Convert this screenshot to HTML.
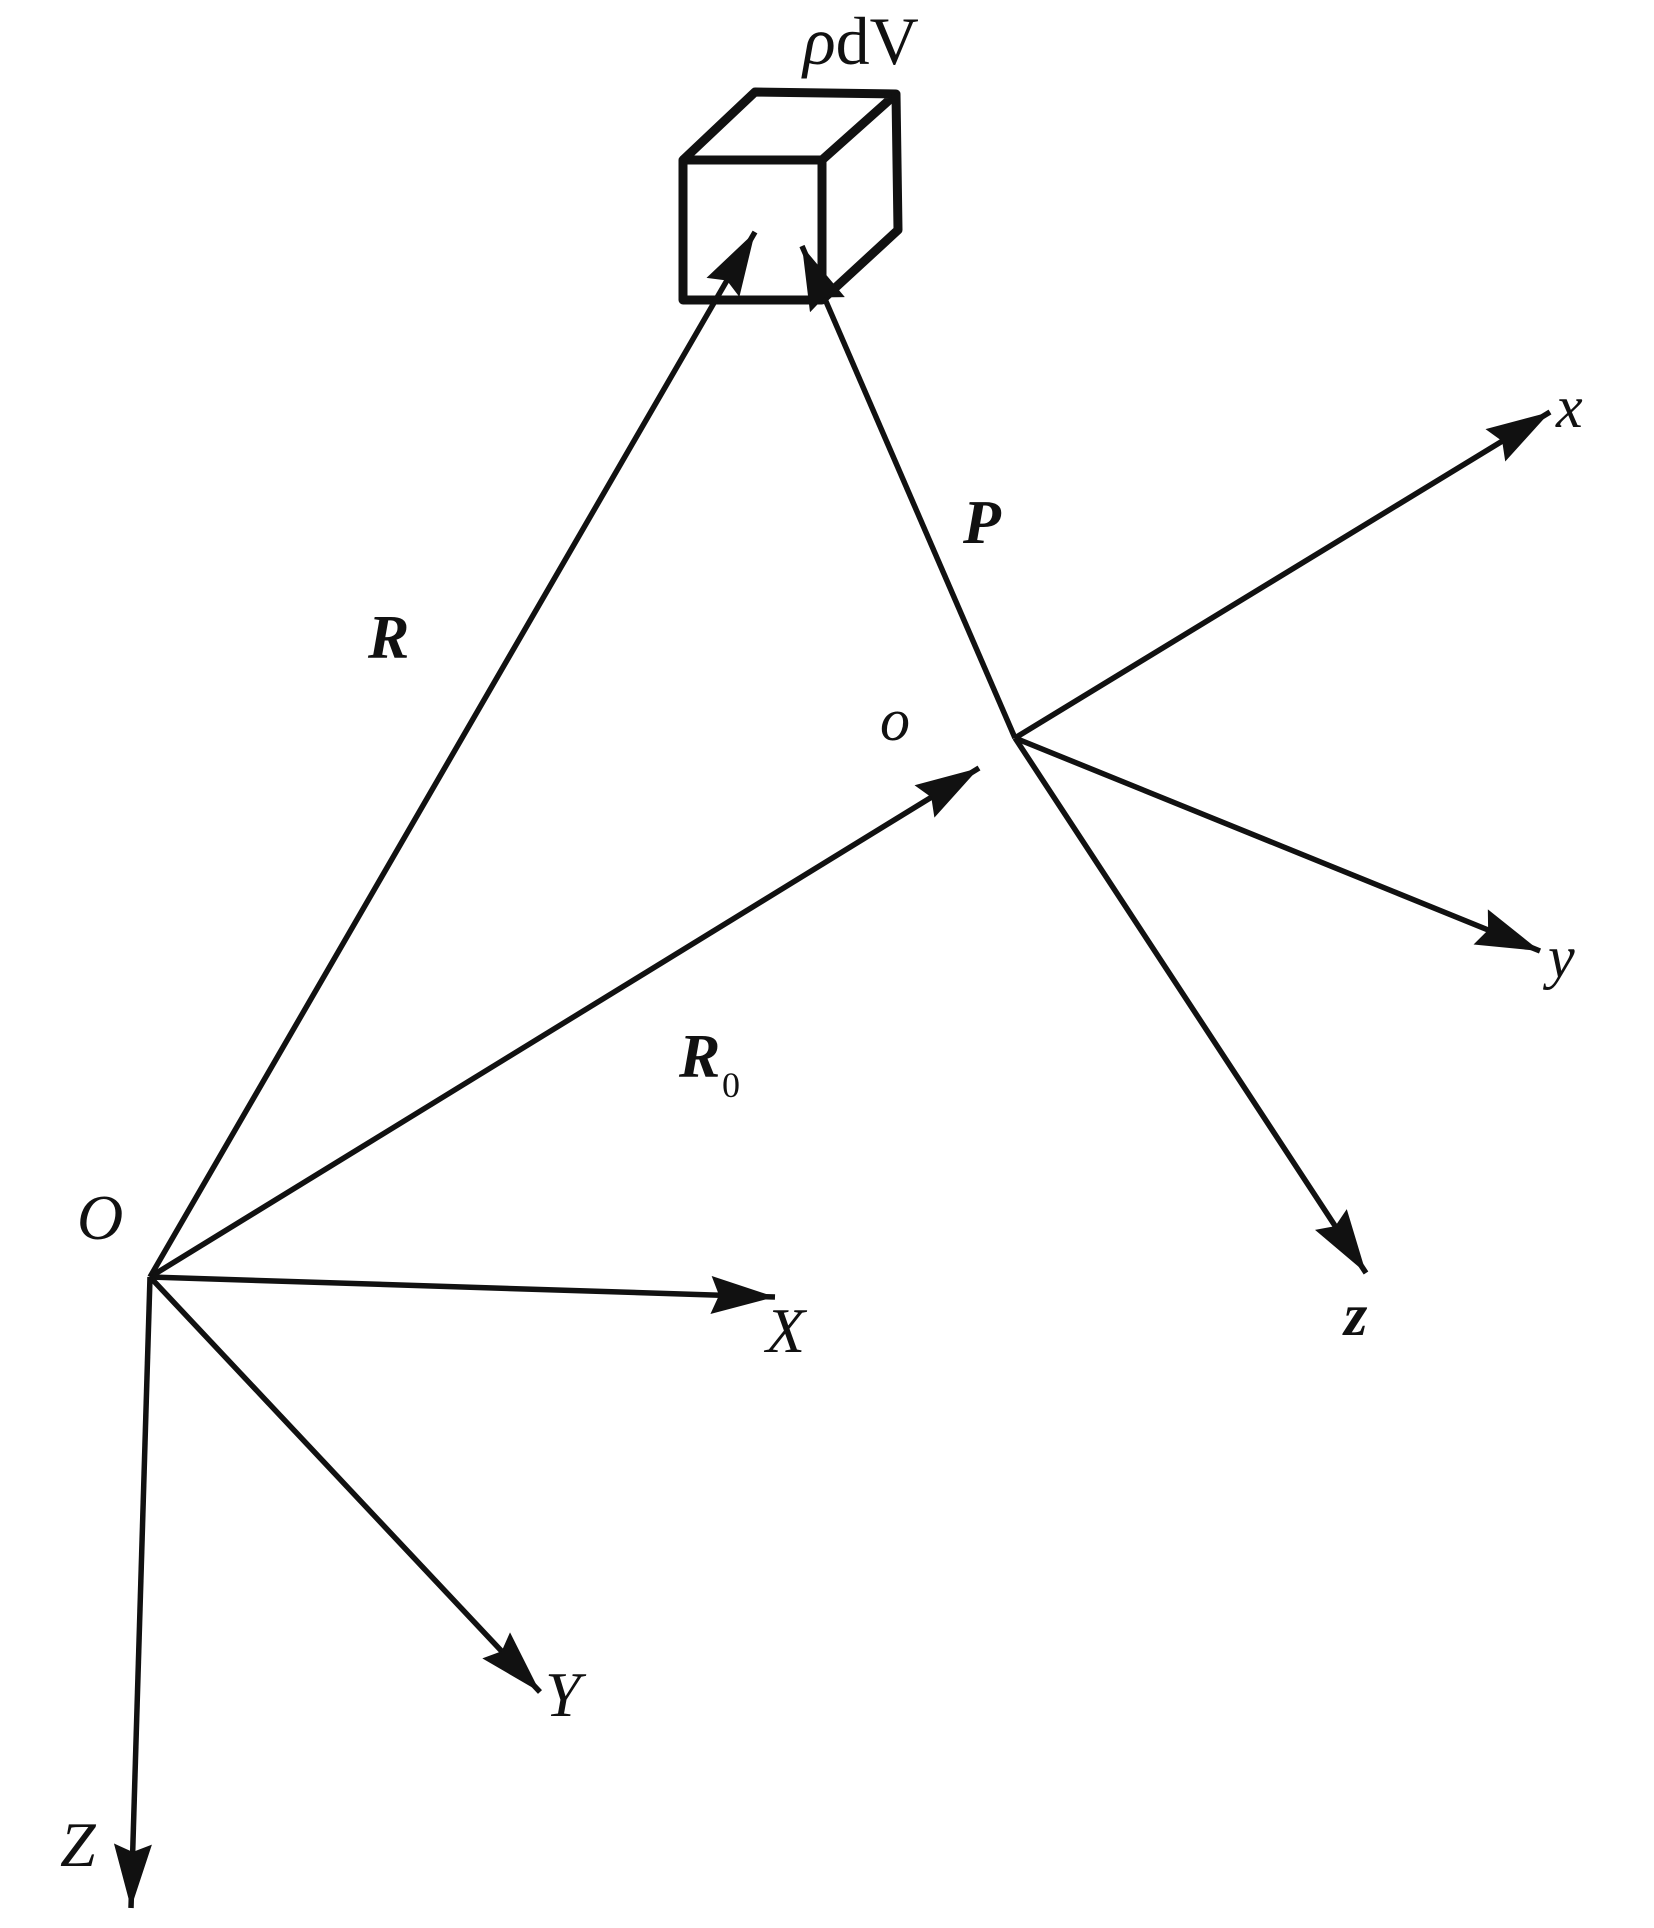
<!DOCTYPE html>
<html><head><meta charset="utf-8"><style>html,body{margin:0;padding:0;background:#fff}svg{display:block}text{font-family:"Liberation Serif",serif;fill:#111}</style></head>
<body>
<svg width="1654" height="1928" viewBox="0 0 1654 1928" xmlns="http://www.w3.org/2000/svg">
<defs>
<marker id="a" markerUnits="userSpaceOnUse" markerWidth="70" markerHeight="44" refX="64" refY="19" orient="auto">
<polygon points="0,0 64,19 0,38 8,19" fill="#111"/>
</marker>
</defs>
<g stroke="#111" stroke-width="9" fill="none" stroke-linejoin="round">
<polygon points="683,160 822,160 822,300 683,300"/>
<polyline points="683,160 755,92 896,94 822,160"/>
<polyline points="896,94 898,230 822,300"/>
</g>
<g stroke="#111" stroke-width="5.5" fill="none">
<line x1="150" y1="1277" x2="755" y2="232" marker-end="url(#a)"/>
<line x1="1015" y1="738" x2="802" y2="246" marker-end="url(#a)"/>
<line x1="150" y1="1277" x2="979" y2="768" marker-end="url(#a)"/>
<line x1="1015" y1="738" x2="1550" y2="412" marker-end="url(#a)"/>
<line x1="1015" y1="738" x2="1540" y2="951" marker-end="url(#a)"/>
<line x1="1015" y1="738" x2="1366" y2="1273" marker-end="url(#a)"/>
<line x1="150" y1="1277" x2="775" y2="1297" marker-end="url(#a)"/>
<line x1="150" y1="1277" x2="540" y2="1692" marker-end="url(#a)"/>
<line x1="150" y1="1277" x2="131" y2="1908" marker-end="url(#a)"/>
</g>
<text x="803" y="64" font-size="68"><tspan font-style="italic">ρ</tspan>dV</text>
<text x="368" y="658" font-size="62" font-style="italic" font-weight="bold">R</text>
<text x="963" y="543" font-size="62" font-style="italic" font-weight="bold">P</text>
<text x="880" y="740" font-size="60" font-style="italic">o</text>
<text x="679" y="1077" font-size="62" font-style="italic" font-weight="bold">R</text>
<text x="722" y="1097" font-size="36">0</text>
<text x="77" y="1239" font-size="64" font-style="italic">O</text>
<text x="766" y="1352" font-size="64" font-style="italic">X</text>
<text x="1344" y="1335" font-size="60" font-style="italic" font-weight="bold">z</text>
<text x="1556" y="427" font-size="60" font-style="italic">x</text>
<text x="1548" y="977" font-size="60" font-style="italic">y</text>
<text x="545" y="1716" font-size="64" font-style="italic">Y</text>
<text x="60" y="1866" font-size="64" font-style="italic">Z</text>
</svg>
</body></html>
